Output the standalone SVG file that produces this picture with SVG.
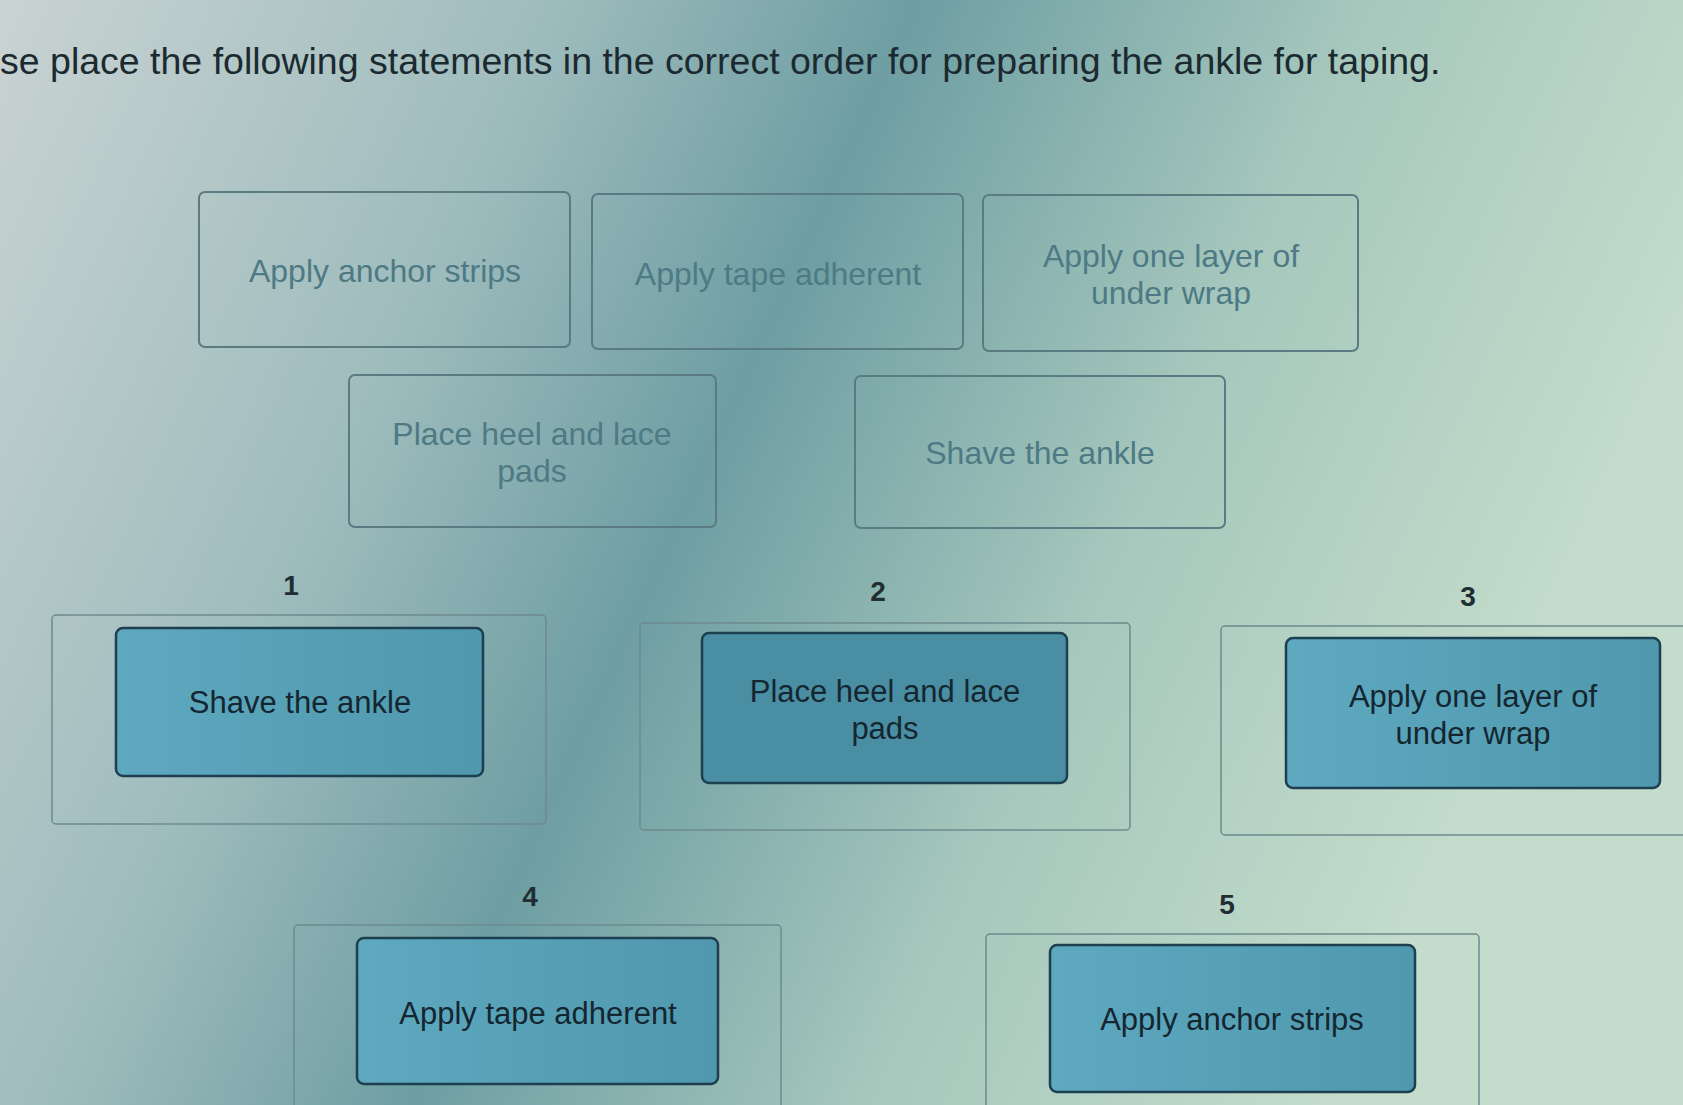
<svg xmlns="http://www.w3.org/2000/svg" width="1683" height="1105" viewBox="0 0 1683 1105">
<defs>
<linearGradient id="bg" x1="0" y1="0" x2="1" y2="0.3">
<stop offset="0" stop-color="#c9d3d2"/>
<stop offset="0.3" stop-color="#9fbcbd"/>
<stop offset="0.5" stop-color="#6e9ea3"/>
<stop offset="0.75" stop-color="#a7c8bd"/>
<stop offset="1" stop-color="#c3dccb"/>
</linearGradient>
<linearGradient id="fill" x1="0" y1="0" x2="1" y2="0">
<stop offset="0" stop-color="#5ea9c0"/>
<stop offset="1" stop-color="#4f98ad"/>
</linearGradient>
</defs>
<style>
.opt{fill:none;stroke:#5b7b82;stroke-width:2}
.opt-t{font-family:"Liberation Sans",Arial,sans-serif;font-size:32px;fill:#4d7a84;text-anchor:middle}
.slot{fill:none;stroke:#6d8a8e;stroke-width:1.5}
.card{fill:url(#fill);stroke:#1d3f4f;stroke-width:2.5}
.card-t{font-family:"Liberation Sans",Arial,sans-serif;font-size:31px;fill:#142630;text-anchor:middle}
.num{font-family:"Liberation Sans",Arial,sans-serif;font-size:28px;font-weight:bold;fill:#1f2e33;text-anchor:middle}
</style>
<rect width="1683" height="1105" fill="url(#bg)"/>
<text x="0" y="74" font-family="Liberation Sans,Arial,sans-serif" font-size="37.5" fill="#1b2a30">se place the following statements in the correct order for preparing the ankle for taping.</text>
<g id="opt1"><rect class="opt" x="199" y="192" width="371" height="155" rx="6"/><text class="opt-t" x="385" y="282">Apply anchor strips</text></g>
<g id="opt2"><rect class="opt" x="592" y="194" width="371" height="155" rx="6"/><text class="opt-t" x="778" y="285">Apply tape adherent</text></g>
<g id="opt3"><rect class="opt" x="983" y="195" width="375" height="156" rx="6"/><text class="opt-t" x="1171" y="267">Apply one layer of</text><text class="opt-t" x="1171" y="304">under wrap</text></g>
<g id="opt4"><rect class="opt" x="349" y="375" width="367" height="152" rx="6"/><text class="opt-t" x="532" y="445">Place heel and lace</text><text class="opt-t" x="532" y="482">pads</text></g>
<g id="opt5"><rect class="opt" x="855" y="376" width="370" height="152" rx="6"/><text class="opt-t" x="1040" y="464">Shave the ankle</text></g>
<g id="slot1"><text class="num" x="291" y="595">1</text><rect class="slot" x="52" y="615" width="494" height="209" rx="4"/><rect class="card" x="116" y="628" width="367" height="148" rx="7"/><text class="card-t" x="300" y="713">Shave the ankle</text></g>
<g id="slot2"><text class="num" x="878" y="601">2</text><rect class="slot" x="640" y="623" width="490" height="207" rx="4"/><rect class="card" x="702" y="633" width="365" height="150" rx="7" style="fill:#4a8ea3"/><text class="card-t" x="885" y="702">Place heel and lace</text><text class="card-t" x="885" y="739">pads</text></g>
<g id="slot3"><text class="num" x="1468" y="606">3</text><rect class="slot" x="1221" y="626" width="470" height="209" rx="4"/><rect class="card" x="1286" y="638" width="374" height="150" rx="7"/><text class="card-t" x="1473" y="707">Apply one layer of</text><text class="card-t" x="1473" y="744">under wrap</text></g>
<g id="slot4"><text class="num" x="530" y="906">4</text><rect class="slot" x="294" y="925" width="487" height="200" rx="4"/><rect class="card" x="357" y="938" width="361" height="146" rx="7"/><text class="card-t" x="538" y="1024">Apply tape adherent</text></g>
<g id="slot5"><text class="num" x="1227" y="914">5</text><rect class="slot" x="986" y="934" width="493" height="190" rx="4"/><rect class="card" x="1050" y="945" width="365" height="147" rx="7"/><text class="card-t" x="1232" y="1030">Apply anchor strips</text></g>
<g id="connectors"/>
</svg>
